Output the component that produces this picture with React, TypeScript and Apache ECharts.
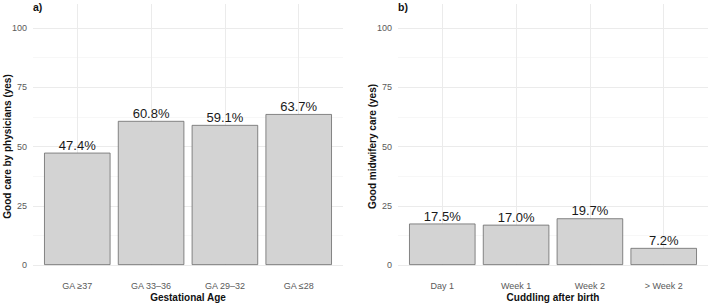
import React, { useEffect, useRef } from "react";
import * as echarts from "echarts";

// Panel a) – good care by physicians, by gestational age
const gaCategories = ["GA ≥37", "GA 33–36", "GA 29–32", "GA ≤28"];
const gaValues = [47.4, 60.8, 59.1, 63.7];

// Panel b) – good midwifery care, by start of cuddling
const cuddleCategories = ["Day 1", "Week 1", "Week 2", "> Week 2"];
const cuddleValues = [17.5, 17.0, 19.7, 7.2];

const yMin = 0;
const yMax = 100;
const yStep = 25;

const FONT = "'Liberation Sans', Arial, Helvetica, sans-serif";
const GRID_MAJOR = "#ebebeb";
const GRID_MINOR = "#f4f4f4";
const TICK_TEXT = "#5a5a5a";

// plot panel geometry
const PANEL_TOP = 28;
const PANEL_H = 237;
const PANEL_W = 310;
const PANEL_LEFTS = [33, 398];
// discrete axis padding: 0.6 band on each side of the outer categories
const BAND = PANEL_W / 4.2;
const INSET = BAND * 0.1;
const EXTEND = 12; // vertical grid lines reach beyond the 0..100 range

function buildOption() {
  const panels = [
    { cats: gaCategories, vals: gaValues, xName: "Gestational Age", yName: "Good care by physicians (yes)", tag: "a)" },
    { cats: cuddleCategories, vals: cuddleValues, xName: "Cuddling after birth", yName: "Good midwifery care (yes)", tag: "b)" },
  ];

  const grid: any[] = [];
  const xAxis: any[] = [];
  const yAxis: any[] = [];
  const series: any[] = [];
  const title: any[] = [];

  panels.forEach((p, i) => {
    const left = PANEL_LEFTS[i];
    const gBack = i * 2;
    const gBars = i * 2 + 1;

    grid.push({ left, top: PANEL_TOP, width: PANEL_W, height: PANEL_H, containLabel: false, outerBoundsMode: "none" });
    grid.push({
      left: left + INSET,
      top: PANEL_TOP,
      width: PANEL_W - 2 * INSET,
      height: PANEL_H,
      containLabel: false,
      outerBoundsMode: "none",
    });

    xAxis.push({ gridIndex: gBack, type: "category", data: p.cats, show: false });
    xAxis.push({
      gridIndex: gBars,
      type: "category",
      data: p.cats,
      offset: EXTEND,
      name: p.xName,
      nameLocation: "middle",
      nameGap: 15,
      nameMoveOverlap: false,
      nameTextStyle: { fontSize: 10, fontWeight: "bold", color: "#111", fontFamily: FONT },
      axisLine: { show: false },
      axisTick: {
        show: true,
        inside: true,
        alignWithLabel: true,
        length: PANEL_H + 2 * EXTEND,
        lineStyle: { color: GRID_MAJOR, width: 1 },
      },
      axisLabel: { margin: 4, fontSize: 9, color: TICK_TEXT, fontFamily: FONT },
      splitLine: { show: false },
    });

    yAxis.push({
      gridIndex: gBack,
      type: "value",
      min: yMin,
      max: yMax,
      interval: yStep,
      name: p.yName,
      nameLocation: "middle",
      nameGap: 21,
      nameMoveOverlap: false,
      nameTextStyle: { fontSize: 10, fontWeight: "bold", color: "#111", fontFamily: FONT },
      axisLine: { show: false },
      axisTick: { show: false },
      axisLabel: { margin: 6, fontSize: 9, color: TICK_TEXT, fontFamily: FONT },
      splitLine: { show: true, lineStyle: { color: GRID_MAJOR, width: 1 } },
      minorTick: { show: false, splitNumber: 2 },
      minorSplitLine: { show: true, lineStyle: { color: GRID_MINOR, width: 0.7 } },
    });
    yAxis.push({ gridIndex: gBars, type: "value", min: yMin, max: yMax, show: false, splitLine: { show: false } });

    series.push({
      type: "bar",
      xAxisIndex: gBars,
      yAxisIndex: gBars,
      data: p.vals,
      barWidth: "90%",
      itemStyle: { color: "#d3d3d3", borderColor: "#6a6a6a", borderWidth: 0.8 },
      label: {
        show: true,
        position: "top",
        distance: 1,
        fontSize: 13,
        color: "#1a1a1a",
        fontFamily: FONT,
        formatter: (d: any) => `${Number(d.value).toFixed(1)}%`,
      },
    });

    title.push({
      text: p.tag,
      left,
      top: 1,
      padding: 0,
      textStyle: { fontSize: 10.5, fontWeight: "bold", color: "#111", fontFamily: FONT },
    });
  });

  return {
    animation: false,
    backgroundColor: "#ffffff",
    textStyle: { fontFamily: FONT },
    title,
    grid,
    xAxis,
    yAxis,
    series,
  };
}

export default function App() {
  const ref = useRef<HTMLDivElement>(null);

  useEffect(() => {
    document.body.style.margin = "0";
    if (!ref.current) return;
    const chart = echarts.init(ref.current, undefined, { renderer: "svg" });
    chart.setOption(buildOption());
    return () => chart.dispose();
  }, []);

  return <div ref={ref} style={{ width: 709, height: 303 }} />;
}
